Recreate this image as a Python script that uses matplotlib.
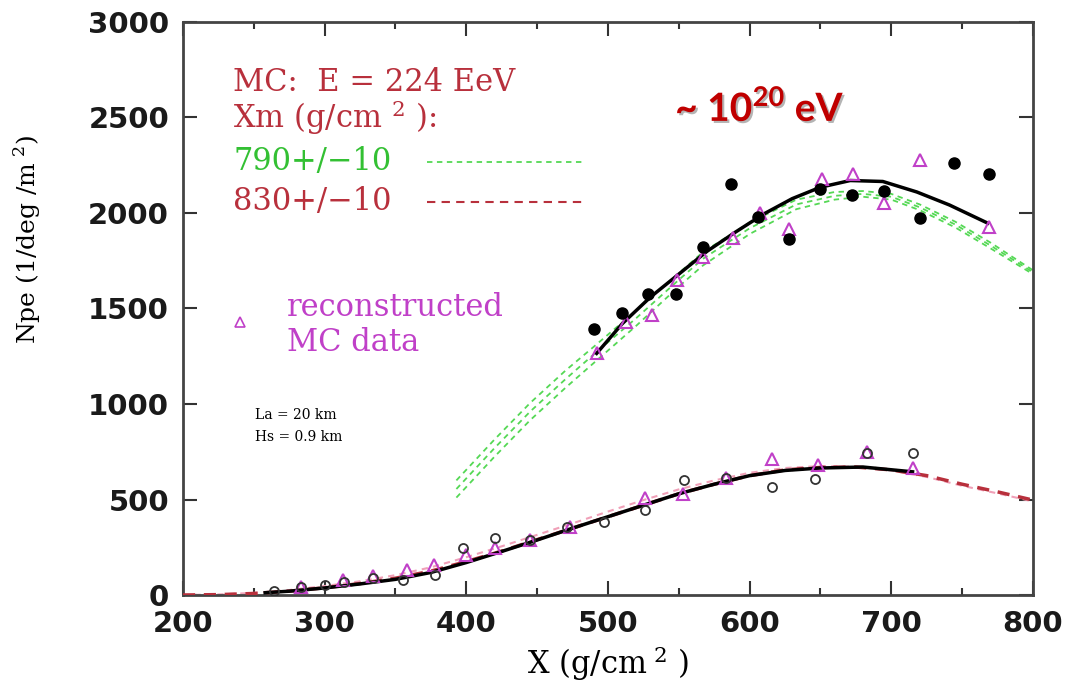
import matplotlib
matplotlib.use('Agg')
import matplotlib.pyplot as plt
import matplotlib.patheffects as pe
from matplotlib.ticker import MultipleLocator

plt.rcParams['mathtext.fontset'] = 'custom'
plt.rcParams['mathtext.rm'] = 'DejaVu Serif'
plt.rcParams['mathtext.bf'] = 'Lato:bold'

# upper shower (~1e20 eV): data points and fits
hi_dot_x = [490, 510, 528, 548, 567, 587, 606, 628, 650, 672, 695, 720, 744, 769]
hi_dot_y = [1393, 1475, 1575, 1576, 1822, 2152, 1979, 1864, 2126, 2094, 2115, 1974, 2262, 2204]
hi_tri_x = [492, 513, 531, 549, 567, 588, 607, 628, 651, 673, 695, 720, 769]
hi_tri_y = [1267, 1429, 1466, 1649, 1770, 1869, 2000, 1916, 2178, 2204, 2052, 2277, 1927]
hi_fit_x = [492, 510, 530, 550, 570, 590, 610, 630, 650, 671, 694, 718, 741, 768]
hi_fit_y = [1265, 1420, 1560, 1680, 1800, 1900, 1995, 2075, 2135, 2170, 2165, 2110, 2042, 1947]

green_x = [393, 420, 445, 470, 490, 520, 550, 567, 600, 633, 660, 680, 700, 720, 745, 770, 800]
green_lo = [510, 725, 915, 1085, 1215, 1410, 1615, 1725, 1890, 2020, 2070, 2085, 2070, 2015, 1925, 1815, 1680]
green_mid = [555, 770, 960, 1130, 1260, 1450, 1650, 1760, 1920, 2045, 2090, 2100, 2085, 2030, 1940, 1830, 1690]
green_hi = [600, 815, 1005, 1175, 1300, 1490, 1685, 1795, 1950, 2070, 2110, 2115, 2100, 2045, 1955, 1845, 1700]

# lower shower: data points and fits
lo_circ_x = [264, 283, 300, 314, 334, 355, 378, 398, 420, 445, 471, 497, 526, 554, 583, 616, 646, 683, 715]
lo_circ_y = [21, 42, 52, 68, 89, 79, 105, 246, 298, 288, 356, 382, 445, 602, 612, 565, 607, 743, 743]
lo_tri_x = [283, 313, 334, 358, 377, 400, 420, 445, 473, 526, 553, 583, 616, 648, 683, 715]
lo_tri_y = [42, 79, 100, 131, 157, 209, 246, 290, 356, 508, 529, 612, 712, 681, 750, 665]
lo_fit_x = [258, 275, 300, 325, 350, 375, 400, 425, 450, 475, 500, 525, 550, 575, 600, 625, 650, 680, 715]
lo_fit_y = [12, 20, 37, 58, 82, 118, 170, 228, 288, 350, 410, 470, 530, 580, 625, 652, 665, 670, 645]

red_x = [200, 225, 250, 275, 300, 325, 350, 375, 400, 425, 450, 475, 500, 525, 550,
         575, 600, 625, 650, 675, 700, 725, 750, 775, 800]
red_mid = [0, 2, 8, 20, 38, 60, 88, 125, 175, 230, 290, 350, 410, 470, 530,
           580, 625, 655, 668, 670, 655, 625, 580, 540, 497]
red_up = [0, 3, 11, 26, 47, 72, 104, 145, 198, 255, 315, 375, 437, 497, 553,
          600, 640, 665, 675, 672, 652, 618, 572, 532, 490]

fig = plt.figure(figsize=(10.72, 6.87), dpi=100)
ax = fig.add_axes([0.1707, 0.1339, 0.7929, 0.8341])

green = '#55d855'
dred = '#b8303c'
mag = '#c040c8'

for gy in (green_lo, green_mid, green_hi):
    ax.plot(green_x, gy, color=green, lw=1.3, ls=(0, (3, 2.5)), zorder=2)
ax.plot(red_x, red_up, color='#f0a0b8', lw=1.5, ls=(0, (3, 2.5)), zorder=2)
ax.plot(red_x, red_mid, color=dred, lw=2.5, ls=(0, (3.5, 2.5)), zorder=3)
ax.plot(hi_fit_x, hi_fit_y, color='black', lw=2.5, zorder=4)
ax.plot(lo_fit_x, lo_fit_y, color='black', lw=2.5, zorder=4)

ax.plot(hi_tri_x, hi_tri_y, ls='none', marker='^', ms=9, mfc='none', mec=mag, mew=1.5, zorder=5)
ax.plot(hi_dot_x, hi_dot_y, ls='none', marker='o', ms=8, color='black', zorder=6)
ax.plot(lo_tri_x, lo_tri_y, ls='none', marker='^', ms=8, mfc='none', mec=mag, mew=1.5, zorder=5)
ax.plot(lo_circ_x, lo_circ_y, ls='none', marker='o', ms=6.5, mfc='none', mec='#333333', mew=1.3, zorder=6)

ax.set_xlim(200, 800)
ax.set_ylim(0, 3000)
ax.xaxis.set_major_locator(MultipleLocator(100))
ax.xaxis.set_minor_locator(MultipleLocator(50))
ax.yaxis.set_major_locator(MultipleLocator(500))
ax.tick_params(which='both', direction='in', top=True, right=True, color='#333333', width=1.5)
ax.tick_params(which='major', length=10)
ax.tick_params(which='minor', length=5)
ax.tick_params(axis='x', pad=11)
ax.tick_params(axis='y', pad=10)
for lab in ax.get_xticklabels() + ax.get_yticklabels():
    lab.set_fontfamily('DejaVu Sans')
    lab.set_fontweight('bold')
    lab.set_fontsize(21)
    lab.set_color('#1a1a1a')
for sp in ax.spines.values():
    sp.set_color('#444444')
    sp.set_linewidth(2)

ax.set_xlabel(r'X (g/cm$^{\ 2}$ )', family='DejaVu Serif', fontsize=22, labelpad=4)
ax.set_ylabel(r'Npe (1/deg /m$^{\ 2}$)', family='DejaVu Serif', fontsize=18)
ax.yaxis.set_label_coords(-0.165, 0.62)

tr = ax.transAxes
ax.text(0.059, 0.895, 'MC:  E = 224 EeV', transform=tr, family='DejaVu Serif',
        fontsize=22, color=dred, va='center')
ax.text(0.059, 0.834, r'Xm (g/cm $^{2}$ ):', transform=tr, family='DejaVu Serif',
        fontsize=22, color=dred, va='center')
ax.text(0.059, 0.756, '790+/\u221210', transform=tr, family='DejaVu Serif',
        fontsize=22, color='#33c033', va='center')
ax.text(0.059, 0.686, '830+/\u221210', transform=tr, family='DejaVu Serif',
        fontsize=22, color=dred, va='center')
ax.plot([0.287, 0.471], [0.756, 0.756], transform=tr, color=green, lw=1.3, ls=(0, (3, 2.5)))
ax.plot([0.287, 0.471], [0.686, 0.686], transform=tr, color=dred, lw=1.5, ls=(0, (4, 3)))

ax.plot([0.067], [0.476], transform=tr, ls='none', marker='^', ms=7, mfc='none', mec=mag, mew=1.2)
ax.text(0.122, 0.501, 'reconstructed', transform=tr, family='DejaVu Serif',
        fontsize=22, color=mag, va='center')
ax.text(0.122, 0.440, 'MC data', transform=tr, family='DejaVu Serif',
        fontsize=22, color=mag, va='center')

ax.text(0.085, 0.314, 'La = 20 km', transform=tr, family='DejaVu Serif',
        fontsize=10, color='black', va='center')
ax.text(0.085, 0.276, 'Hs = 0.9 km', transform=tr, family='DejaVu Serif',
        fontsize=10, color='black', va='center')

ax.text(0.579, 0.85, r'~ 10$^{\mathbf{20}}$ eV', transform=tr, family='Lato',
        fontweight='bold', fontsize=28, color='#c00000', va='center',
        path_effects=[pe.withSimplePatchShadow(offset=(1.5, -1.5), shadow_rgbFace='#444444', alpha=0.4)])

fig.savefig('out.png', dpi=100)
